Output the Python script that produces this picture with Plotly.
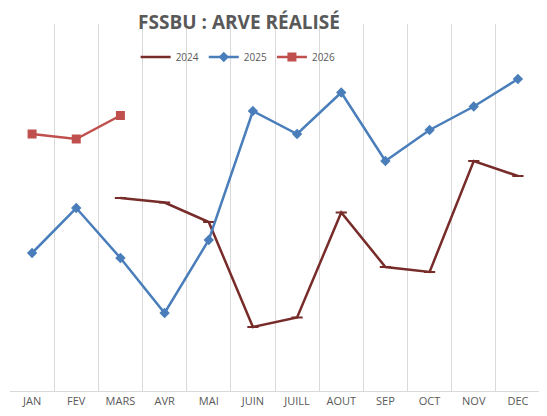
import plotly.graph_objects as go

months = ["JAN", "FEV", "MARS", "AVR", "MAI", "JUIN", "JUILL", "AOUT", "SEP", "OCT", "NOV", "DEC"]
v2024 = [None, None, 1930, 1885, 1690, 640, 735, 1785, 1240, 1190, 2300, 2150]
v2025 = [1380, 1830, 1330, 780, 1510, 2800, 2570, 2985, 2300, 2610, 2845, 3120]
v2026 = [2570, 2520, 2755, None, None, None, None, None, None, None, None, None]

fig = go.Figure()
fig.add_trace(go.Scatter(x=months, y=v2024, name="2024", mode="lines+markers",
                         line=dict(color="#772c2a", width=2.5),
                         marker=dict(symbol="line-ew", size=8, line=dict(color="#772c2a", width=2))))
fig.add_trace(go.Scatter(x=months, y=v2025, name="2025", mode="lines+markers",
                         line=dict(color="#4a7ebb", width=2.5),
                         marker=dict(symbol="diamond", size=8, color="#4a7ebb")))
fig.add_trace(go.Scatter(x=months, y=v2026, name="2026", mode="lines+markers",
                         line=dict(color="#c0504d", width=2.5),
                         marker=dict(symbol="square", size=9, color="#c0504d")))

W, H = 539, 408
fig.update_layout(
    width=W, height=H,
    paper_bgcolor="white", plot_bgcolor="white",
    margin=dict(l=2, r=7, t=16, b=25),
    title=dict(text="<b>FSSBU : ARVE RÉALISÉ</b>", x=231/W, xanchor="center",
               y=1-14/H, yanchor="middle",
               font=dict(family="Open Sans", size=19, color="#595959")),
    legend=dict(orientation="h", x=232/W, xanchor="center", xref="paper",
                y=1-(49-16)/367, yanchor="middle",
                font=dict(family="Open Sans", size=10, color="#595959"),
                bgcolor="rgba(0,0,0,0)", itemwidth=30, tracegroupgap=0),
    showlegend=True,
    xaxis=dict(type="category", tickson="boundaries", showgrid=True, gridcolor="#d9d9d9",
               gridwidth=1, ticks="", showline=True, linecolor="#d9d9d9",
               tickfont=dict(family="Open Sans", size=11, color="#595959"),
               range=[-0.5, 11.5], zeroline=False),
    yaxis=dict(range=[0, 3670], showgrid=False, showticklabels=False, zeroline=False,
               showline=False, ticks=""),
)
fig.write_html("out.html")
